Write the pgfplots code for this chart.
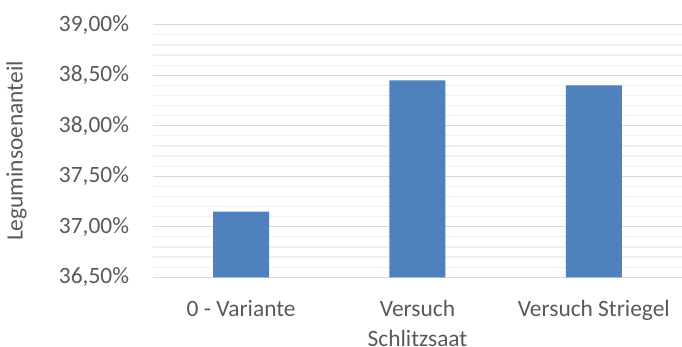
\documentclass[border=0pt]{standalone}
\usepackage{pgfplots}
\pgfplotsset{compat=1.18}
\usepackage{fontspec}
\setmainfont{Carlito}
\definecolor{barblue}{HTML}{4F81BD}
\definecolor{txtgray}{HTML}{595959}
\definecolor{majgrid}{HTML}{D9D9D9}
\definecolor{mingrid}{HTML}{F0F0F0}
\begin{document}
\fontsize{11.7pt}{15pt}\selectfont
\begin{tikzpicture}
\useasboundingbox (0,0) rectangle (341pt,173.5pt);
\begin{axis}[
  at={(76.5pt,34.85pt)}, anchor=south west,
  scale only axis,
  width=264.5pt, height=126.25pt,
  xmin=-0.5, xmax=2.5,
  ymin=36.5, ymax=39,
  ytick={36.5,37,...,39},
  minor y tick num=4,
  ymajorgrids, yminorgrids,
  major grid style={majgrid, line width=0.6pt},
  minor grid style={mingrid, line width=0.6pt},
  axis line style={draw=none},
  major tick length=0pt, minor tick length=0pt,
  xtick={0,1,2},
  xticklabels={0 - Variante,{Versuch\\Schlitzsaat},Versuch Striegel},
  /pgf/number format/assume math mode=true,
  yticklabel={\pgfmathprintnumber[fixed,fixed zerofill,precision=2,use comma]{\tick}\%},
  yticklabel style={font=\fontsize{11.7pt}{15pt}\selectfont, text=txtgray, anchor=east, inner sep=0pt, xshift=-11.8pt},
  xticklabel style={font=\fontsize{11.7pt}{15pt}\selectfont, text=txtgray, align=center, anchor=north, inner sep=0pt, yshift=-11.5pt},
  ylabel={Leguminsoenanteil},
  ylabel style={font=\fontsize{11.7pt}{15pt}\selectfont, text=txtgray, at={(axis description cs:0,0.5)}, anchor=center, yshift=68.25pt},
  ybar, bar width=28pt,
]
\addplot[fill=barblue, draw=none] coordinates {(0,37.15) (1,38.45) (2,38.40)};
\end{axis}
\end{tikzpicture}
\end{document}
